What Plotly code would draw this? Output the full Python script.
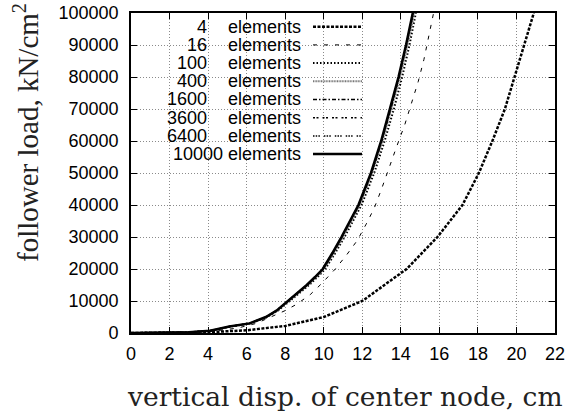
import plotly.graph_objects as go

# ---- data ----
x_4 = [0, 2, 4, 6, 8, 10, 12, 14.3, 15.9, 17.2, 18.05, 18.75, 19.4, 19.9, 20.4, 20.9]
y_4 = [0, 50, 250, 850, 2200, 5000, 10000, 20000, 30000, 40000, 50000, 60000, 70000, 80000, 90000, 100000]

x_16 = [0, 2, 4, 5.5, 6.5, 7.3, 8.0, 8.6, 9.3, 9.9, 10.6, 11.2, 11.75, 12.2, 12.62, 13.0, 13.4, 13.8, 14.2, 14.55, 14.9, 15.2, 15.45, 15.7]
y_16 = [0, 30, 400, 1500, 3000, 5000, 7000, 9000, 12000, 15500, 20000, 24500, 29000, 34000, 39000, 45000, 52000, 58500, 65000, 72000, 78500, 85500, 92500, 100000]

y_fine = [0, 250, 700, 2000, 3000, 5000, 7000, 10000, 12500, 15000, 17500, 20000, 25000, 30000, 40000, 50000, 60000, 70000, 80000, 90000, 100000]
x_100 = [0, 3.05, 4.15, 5.15, 6.2, 7.06, 7.63, 8.25, 8.76, 9.24, 9.68, 10.08, 10.6, 11.08, 11.96, 12.62, 13.16, 13.64, 14.07, 14.45, 14.78]
x_400 = [0, 3.0, 4.1, 5.11, 6.16, 7.02, 7.58, 8.19, 8.7, 9.17, 9.6, 10.01, 10.52, 11.0, 11.86, 12.51, 13.05, 13.52, 13.96, 14.35, 14.7]
x_1600 = [0, 3.0, 4.1, 5.1, 6.15, 7.01, 7.57, 8.17, 8.67, 9.14, 9.57, 9.97, 10.48, 10.95, 11.83, 12.48, 13.01, 13.48, 13.91, 14.3, 14.65]
x_3600 = [0, 3.0, 4.1, 5.1, 6.15, 7.0, 7.56, 8.16, 8.66, 9.13, 9.56, 9.96, 10.47, 10.94, 11.82, 12.47, 13.0, 13.47, 13.9, 14.29, 14.64]
x_6400 = [0, 3.0, 4.1, 5.1, 6.15, 7.0, 7.55, 8.15, 8.65, 9.12, 9.55, 9.95, 10.46, 10.93, 11.81, 12.46, 12.99, 13.46, 13.89, 14.28, 14.63]
x_10000 = [0, 3.0, 4.1, 5.1, 6.15, 7.0, 7.55, 8.15, 8.65, 9.12, 9.55, 9.95, 10.45, 10.92, 11.8, 12.45, 12.98, 13.45, 13.88, 14.27, 14.62]

mesh_labels = ["4", "16", "100", "400", "1600", "3600", "6400", "10000"]
x_ticks = list(range(0, 23, 2))
y_ticks = list(range(0, 100001, 10000))
x_title = "vertical disp. of center node, cm"
y_title = "follower load, kN/cm<sup>2</sup>"

styles = [
    dict(color="black", width=2.5, dash="3px,1.5px"),
    dict(color="black", width=1, dash="4px,7px"),
    dict(color="black", width=2, dash="1.5px,2px"),
    dict(color="#777777", width=2, dash="1px,0.6px"),
    dict(color="black", width=1.5, dash="4px,2px,1.5px,2px"),
    dict(color="black", width=1.5, dash="2px,1.5px,2px,4px"),
    dict(color="black", width=1.5, dash="1.5px,1.2px,1.5px,1.2px,1.5px,4px"),
    dict(color="black", width=2.5, dash="solid"),
]

series = [(x_4, y_4), (x_16, y_16), (x_100, y_fine), (x_400, y_fine),
          (x_1600, y_fine), (x_3600, y_fine), (x_6400, y_fine), (x_10000, y_fine)]

fig = go.Figure()
for (xs, ys), lab, st in zip(series, mesh_labels, styles):
    fig.add_trace(go.Scatter(x=xs, y=ys, mode="lines", name=f"{lab} elements",
                             line=dict(color=st["color"], width=st["width"], dash=st["dash"]),
                             showlegend=False))

W, H = 566, 416
ml, mr, mt, mb = 131, 11, 13, 83
pw, ph = W - ml - mr, H - mt - mb

def px(xp):
    return (xp - ml) / pw

def py(yp):
    return 1 - (yp - mt) / ph

key_font = dict(size=18, family="Liberation Sans", color="black")
row0, drow = 26.7, 18.2
for i, (lab, st) in enumerate(zip(mesh_labels, styles)):
    yc = row0 + i * drow
    if len(lab) >= 5:
        fig.add_annotation(x=px(302), y=py(yc), xref="paper", yref="paper",
                           text=f"{lab} elements", showarrow=False, xanchor="right",
                           yanchor="middle", font=key_font, borderpad=0)
    else:
        fig.add_annotation(x=px(208), y=py(yc), xref="paper", yref="paper",
                           text=lab, showarrow=False, xanchor="right", align="right",
                           width=44, yanchor="middle", font=key_font, borderpad=0)
        fig.add_annotation(x=px(302), y=py(yc), xref="paper", yref="paper",
                           text="elements", showarrow=False, xanchor="right",
                           yanchor="middle", font=key_font, borderpad=0)
    fig.add_shape(type="line", xref="paper", yref="paper",
                  x0=px(313), x1=px(362), y0=py(yc), y1=py(yc),
                  line=dict(color=st["color"], width=st["width"], dash=st["dash"]))

# axis titles
fig.add_annotation(x=px(345), y=py(396), xref="paper", yref="paper", text=x_title,
                   showarrow=False, xanchor="center", yanchor="middle",
                   font=dict(family="DejaVu Serif", size=26.5, color="#222222"))
fig.add_annotation(x=px(26), y=py(133), xref="paper", yref="paper", text=y_title,
                   showarrow=False, xanchor="center", yanchor="middle", textangle=-90,
                   font=dict(family="Liberation Serif", size=29, color="#222222"))

axis_common = dict(showline=True, linecolor="black", linewidth=1.8, mirror="ticks",
                   ticks="inside", ticklen=6, tickwidth=1, tickcolor="black",
                   showgrid=True, gridcolor="#8a8a8a", griddash="1px,2px", gridwidth=1,
                   zeroline=False, tickfont=dict(family="Liberation Sans", size=18, color="black"))

fig.update_xaxes(range=[0, 22], tickvals=x_ticks, ticktext=[str(v) for v in x_ticks],
                 ticklabelstandoff=3, **axis_common)
fig.update_yaxes(range=[0, 100000], tickvals=y_ticks, ticktext=[str(v) for v in y_ticks],
                 ticklabelstandoff=7, **axis_common)

fig.update_layout(width=W, height=H, margin=dict(l=ml, r=mr, t=mt, b=mb, autoexpand=False),
                  plot_bgcolor="white", paper_bgcolor="white", showlegend=False)

fig.write_html("out.html")
